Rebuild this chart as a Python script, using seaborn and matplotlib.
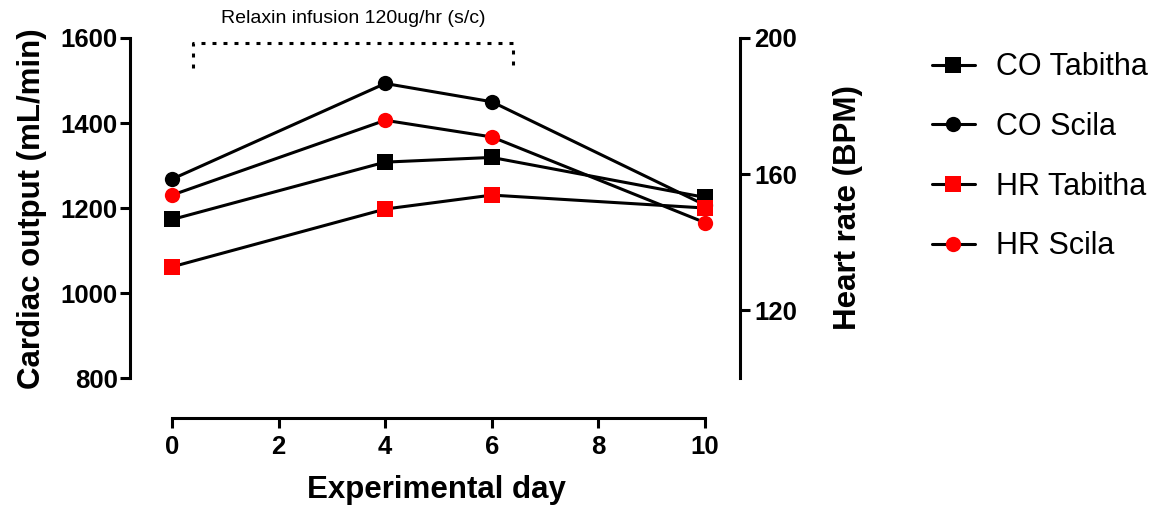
import numpy as np
import pandas as pd
import matplotlib
matplotlib.use('Agg')
import matplotlib.pyplot as plt
import seaborn as sns

# values
days = [0, 4, 6, 10]
co_tabitha = [1173, 1308, 1319, 1225]
co_scila = [1268, 1493, 1450, 1207]
hr_tabitha = [132.7, 149.7, 153.8, 150.0]
hr_scila = [153.8, 175.8, 170.9, 145.7]

x_ticks = [0, 2, 4, 6, 8, 10]
left_ticks = [800, 1000, 1200, 1400, 1600]
right_ticks = [120, 160, 200]
infusion_days = [0.4, 6.4]
infusion_text = 'Relaxin infusion 120ug/hr (s/c)'

sns.set_style("ticks", {"axes.edgecolor": "black", "text.color": "black",
                        "xtick.color": "black", "ytick.color": "black",
                        "axes.labelcolor": "black"})
plt.rcParams['font.family'] = ['Liberation Sans', 'DejaVu Sans']

lw = 2.2
fig = plt.figure(figsize=(11.59, 5.08), dpi=100)
ax = fig.add_axes([0.1122, 0.1772, 0.5263, 0.748])
ax2 = ax.twinx()

sns.lineplot(x=days, y=co_tabitha, ax=ax, color='black', marker='s', markersize=11,
             markeredgewidth=0, linewidth=lw, label='CO Tabitha')
sns.lineplot(x=days, y=co_scila, ax=ax, color='black', marker='o', markersize=11,
             markeredgewidth=0, linewidth=lw, label='CO Scila')
sns.lineplot(x=days, y=hr_tabitha, ax=ax2, color='#ff0000', marker='s', markersize=11,
             markeredgewidth=0, linewidth=lw, label='HR Tabitha')
sns.lineplot(x=days, y=hr_scila, ax=ax2, color='#ff0000', marker='o', markersize=11,
             markeredgewidth=0, linewidth=lw, label='HR Scila')

# HR lines are black with red markers
for l in ax2.lines:
    l.set_color('black')
    l.set_markerfacecolor('#ff0000')
    l.set_markeredgecolor('#ff0000')

ylo = 706
ax.set_xlim(-0.788, 10.657)
ax.set_ylim(ylo, 1600)
ax2.set_ylim(100 + (ylo - 800) / 8, 200)

ax.set_xticks(x_ticks)
ax.set_yticks(left_ticks)
ax2.set_yticks(right_ticks)

for a in (ax, ax2):
    for s in a.spines.values():
        s.set_linewidth(lw)
        s.set_color('black')
    a.tick_params(width=lw, length=7, labelsize=18.5, colors='black')
    for t in a.get_xticklabels() + a.get_yticklabels():
        t.set_fontweight('bold')

ax.spines['top'].set_visible(False)
ax.spines['right'].set_visible(False)
ax.spines['left'].set_bounds(800, 1600)
ax.spines['bottom'].set_bounds(0, 10)
ax2.spines['top'].set_visible(False)
ax2.spines['left'].set_visible(False)
ax2.spines['bottom'].set_visible(False)
ax2.spines['right'].set_bounds(100, 200)
ax.tick_params(axis='y', pad=2)
ax.tick_params(axis='x', pad=5)
ax2.tick_params(axis='y', pad=3.5)

ax.set_xlabel('Experimental day', fontsize=22.5, fontweight='bold', va='center')
ax.xaxis.set_label_coords(0.503, -0.189)
ax.set_ylabel('Cardiac output (mL/min)', fontsize=22.5, fontweight='bold', va='center')
ax.yaxis.set_label_coords(-0.16, 0.55)
ax2.set_ylabel('Heart rate (BPM)', fontsize=22.5, fontweight='bold', va='center', rotation=90)
ax2.yaxis.set_label_coords(1.177, 0.555)

# infusion bracket
ax.plot([infusion_days[0], infusion_days[0], infusion_days[1], infusion_days[1]],
        [1529, 1588, 1588, 1529], color='black', lw=lw, dashes=(1.3, 2.3), clip_on=False)
ax.text(sum(infusion_days) / 2, 1645, infusion_text, ha='center', va='center',
        fontsize=14, clip_on=False)

h1, l1 = ax.get_legend_handles_labels()
h2, l2 = ax2.get_legend_handles_labels()
ax.get_legend().remove()
ax2.get_legend().remove()
fig.legend(h1 + h2, l1 + l2, loc='upper left', bbox_to_anchor=(0.804, 0.897),
           frameon=False, fontsize=22, handlelength=1.4, handletextpad=0.7,
           labelspacing=0.97, borderpad=0, borderaxespad=0)

fig.savefig('out.png', dpi=100)
